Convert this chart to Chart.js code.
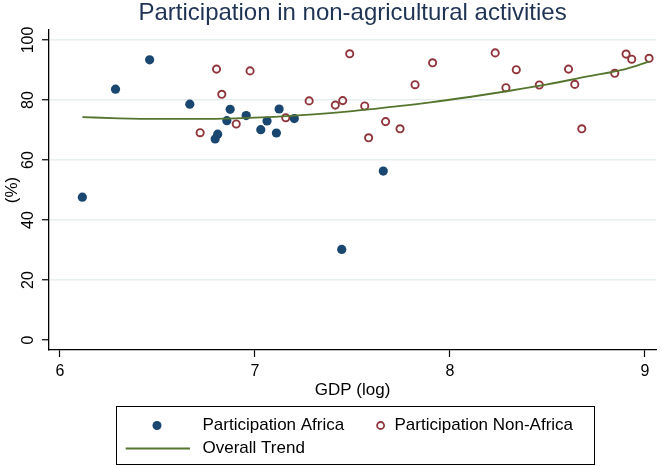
<!DOCTYPE html>
<html>
<head>
<meta charset="utf-8">
<script src="https://cdn.jsdelivr.net/npm/chart.js@4"></script>
<style>
  body { margin: 0; background: #fff; }
  #wrap { width: 662px; height: 466px; }
</style>
</head>
<body>
<div id="wrap"><canvas id="myChart" width="662" height="466"></canvas></div>
<script>
// values
const xAfrica = [6.115, 6.285, 6.46, 6.666, 6.796, 6.809, 6.856, 6.873, 6.955, 7.03, 7.062, 7.11, 7.124, 7.202, 7.445, 7.658];
const yAfrica = [47.6, 83.6, 93.4, 78.6, 67.0, 68.6, 73.1, 76.9, 74.8, 70.1, 73.0, 69.0, 77.0, 73.8, 30.2, 56.3];

const xNonAfrica = [6.719, 6.803, 6.83, 6.904, 6.975, 7.158, 7.278, 7.412, 7.45, 7.486, 7.563, 7.583, 7.67, 7.744,
  7.821, 7.911, 8.232, 8.287, 8.34, 8.458, 8.608, 8.64, 8.676, 8.845, 8.903, 8.932, 9.021];
const yNonAfrica = [69.1, 90.3, 81.9, 72.0, 89.7, 74.1, 79.7, 78.3, 79.8, 95.4, 78.0, 67.4, 72.8, 70.4,
  85.1, 92.4, 95.7, 84.1, 90.1, 85.0, 90.3, 85.2, 70.4, 88.9, 95.3, 93.6, 93.9];

const xTrend = [6.115, 6.3, 6.5, 6.7, 6.9, 7.1, 7.3, 7.5, 7.7, 7.9, 8.1, 8.3, 8.5, 8.7, 8.9, 9.021];
const yTrend = [74.3, 73.9, 73.7, 73.7, 73.9, 74.4, 75.2, 76.3, 77.7, 79.2, 81.0, 83.0, 85.2, 87.8, 90.3, 92.8];

const xTicks = [6, 7, 8, 9];
const yTicks = [0, 20, 40, 60, 80, 100];

const navy = "#1a476f";
const maroon = "#90353b";
const green = "#55752f";
const fontFam = "'Liberation Sans', Arial, sans-serif";

function toPoints(xs, ys) {
  return xs.map((x, i) => ({ x: x, y: ys[i] }));
}

// y tick labels (rotated) and the legend box
const extrasPlugin = {
  id: "extras",
  afterDraw(chart) {
    const ctx = chart.ctx;
    const yScale = chart.scales.y;
    ctx.save();
    ctx.fillStyle = "#000";
    ctx.font = "16px " + fontFam;
    ctx.textAlign = "center";
    ctx.textBaseline = "middle";
    yTicks.forEach((v) => {
      const py = yScale.getPixelForValue(v);
      ctx.save();
      ctx.translate(28.5, py);
      ctx.rotate(-Math.PI / 2);
      ctx.fillText(String(v), 0, 0);
      ctx.restore();
    });

    // legend
    ctx.strokeStyle = "#000";
    ctx.lineWidth = 1;
    ctx.strokeRect(116.5, 406.5, 478, 58);
    ctx.font = "17px " + fontFam;
    ctx.textAlign = "left";
    const row1 = 425.5;
    const row2 = 448.5;

    ctx.beginPath();
    ctx.arc(157, row1, 4.5, 0, Math.PI * 2);
    ctx.fillStyle = navy;
    ctx.fill();

    ctx.beginPath();
    ctx.arc(380.6, row1, 3.5, 0, Math.PI * 2);
    ctx.strokeStyle = maroon;
    ctx.lineWidth = 1.8;
    ctx.stroke();

    ctx.beginPath();
    ctx.moveTo(125.7, row2);
    ctx.lineTo(190, row2);
    ctx.strokeStyle = green;
    ctx.lineWidth = 1.8;
    ctx.stroke();

    ctx.fillStyle = "#000";
    ctx.fillText("Participation Africa", 202.5, row1);
    ctx.fillText("Participation Non-Africa", 394.5, row1);
    ctx.fillText("Overall Trend", 202.5, row2);
    ctx.restore();
  },
};

new Chart("myChart", {
  type: "scatter",
  data: {
    datasets: [
      {
        label: "Participation Africa",
        data: toPoints(xAfrica, yAfrica),
        backgroundColor: navy,
        borderColor: navy,
        borderWidth: 0,
        pointRadius: 4.6,
        order: 2,
      },
      {
        label: "Participation Non-Africa",
        data: toPoints(xNonAfrica, yNonAfrica),
        backgroundColor: "rgba(255,255,255,0)",
        borderColor: maroon,
        borderWidth: 1.9,
        pointRadius: 3.6,
        order: 1,
      },
      {
        label: "Overall Trend",
        data: toPoints(xTrend, yTrend),
        showLine: true,
        borderColor: green,
        borderWidth: 1.8,
        pointRadius: 0,
        cubicInterpolationMode: "monotone",
        order: 0,
      },
    ],
  },
  options: {
    responsive: false,
    animation: false,
    layout: { padding: { top: 0, left: 0, right: 5, bottom: 0 } },
    plugins: {
      legend: { display: false },
      tooltip: { enabled: false },
      title: {
        display: true,
        fullSize: false,
        text: "Participation in non-agricultural activities",
        color: "#1f3354",
        font: { family: fontFam, size: 24, weight: "normal", lineHeight: 1.1 },
        padding: { top: 0, bottom: 3.6 },
      },
    },
    scales: {
      x: {
        type: "linear",
        min: 5.944,
        max: 9.057,
        afterBuildTicks: (s) => {
          s.ticks = xTicks.map((v) => ({ value: v }));
        },
        afterFit: (s) => {
          s.height = 116;
        },
        grid: { drawOnChartArea: false, drawTicks: true, tickLength: 7, tickColor: "#000", tickWidth: 1.2 },
        border: { color: "#000", width: 1.3 },
        ticks: { color: "#000", font: { family: fontFam, size: 16 }, padding: 5, maxRotation: 0 },
        title: {
          display: true,
          text: "GDP (log)",
          color: "#000",
          font: { family: fontFam, size: 17 },
          padding: { top: 0, bottom: 65.8 },
        },
      },
      y: {
        type: "linear",
        min: -3.33,
        max: 103.33,
        afterBuildTicks: (s) => {
          s.ticks = yTicks.map((v) => ({ value: v }));
        },
        afterFit: (s) => {
          s.width = 49;
        },
        grid: {
          color: (c) => (c.tick && c.tick.value === 0 ? "rgba(0,0,0,0)" : "#e6eeef"),
          lineWidth: 1.5,
          drawTicks: true,
          tickLength: 7,
          tickColor: "#000",
          tickWidth: 1.2,
        },
        border: { color: "#000", width: 1.3 },
        ticks: { display: false },
        title: {
          display: true,
          text: "(%)",
          color: "#000",
          font: { family: fontFam, size: 17 },
          padding: { top: 2, bottom: 0 },
        },
      },
    },
  },
  plugins: [extrasPlugin],
});
</script>
</body>
</html>
